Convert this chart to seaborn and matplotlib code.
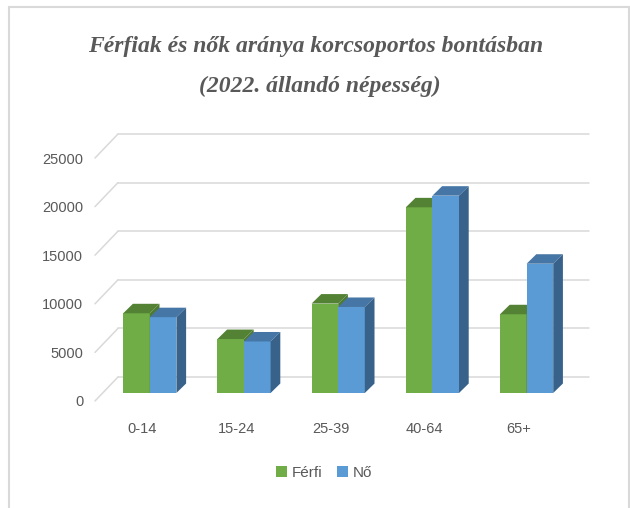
import matplotlib
matplotlib.use('Agg')
import matplotlib.pyplot as plt
import seaborn as sns
import pandas as pd
from matplotlib.patches import Polygon
from matplotlib.lines import Line2D

# ---- adatok ----
korcsoportok = ['0-14', '15-24', '25-39', '40-64', '65+']
ferfi = [8200, 5550, 9200, 19100, 8100]
no = [7800, 5300, 8850, 20300, 13300]
y_ticks = [0, 5000, 10000, 15000, 20000, 25000]

cim1 = 'Férfiak és nők aránya korcsoportos bontásban'
cim2 = '(2022. állandó népesség)'

# szinek (Excel stilus)
zold, kek = '#70AD47', '#5B9BD5'
zold_teto, kek_teto = '#548235', '#4676A5'
zold_oldal, kek_oldal = '#4E7A32', '#38628A'
racs = '#D9D9D9'
szurke = '#595959'

sns.set_style('white')
plt.rcParams['font.family'] = ['Liberation Sans', 'DejaVu Sans']

W, H = 630, 508
fig = plt.figure(figsize=(W / 100, H / 100), dpi=100)
ax = fig.add_axes([95 / W, 107 / H, 471 / W, 243 / H])

df = pd.DataFrame({
    'Korcsoport': korcsoportok * 2,
    'Nem': ['Férfi'] * len(ferfi) + ['Nő'] * len(no),
    'Fő': ferfi + no,
})
sns.barplot(data=df, x='Korcsoport', y='Fő', hue='Nem', palette=[zold, kek],
            width=0.565, saturation=1, linewidth=0, ax=ax)
ax.set_xlim(-0.5, 4.5)
ax.set_ylim(0, 25000)

# pixel -> adat egysegek
ux = 5 / 471
uy = 25000 / 243

# hatso fal racsvonalai + atlos vonalak bal oldalt
wdx, wdy = 23 * ux, 24 * uy
for v in y_ticks:
    ax.add_line(Line2D([-0.5 + wdx, 4.5 + wdx], [v + wdy, v + wdy], color=racs,
                       lw=1.1, zorder=1, clip_on=False))
    ax.add_line(Line2D([-0.5, -0.5 + wdx], [v, v + wdy], color=racs,
                       lw=1.1, zorder=1, clip_on=False))

# oszlopok eltolasa a melysegbe + teteje es oldala (3D hatas)
bdx, bdy = 7.7 * ux, 8 * uy   # oszlopok sikja
ddx, ddy = 9.7 * ux, 9.5 * uy  # oszlop melysege
n = len(korcsoportok)
for i, p in enumerate(ax.patches[:2 * n]):
    elso = i < n
    z = 3 if elso else 4
    x0 = p.get_x() + bdx
    w = p.get_width()
    h = p.get_height()
    p.set_x(x0)
    p.set_y(bdy)
    p.set_zorder(z)
    p.set_clip_on(False)
    top = h + bdy
    teto = Polygon([(x0, top), (x0 + w, top), (x0 + w + ddx, top + ddy), (x0 + ddx, top + ddy)],
                   closed=True, facecolor=zold_teto if elso else kek_teto, edgecolor='none',
                   zorder=z, clip_on=False)
    oldal = Polygon([(x0 + w, bdy), (x0 + w + ddx, bdy + ddy), (x0 + w + ddx, top + ddy), (x0 + w, top)],
                    closed=True, facecolor=zold_oldal if elso else kek_oldal, edgecolor='none',
                    zorder=z, clip_on=False)
    ax.add_patch(teto)
    ax.add_patch(oldal)

for s in ax.spines.values():
    s.set_visible(False)
ax.set_yticks(y_ticks)
ax.set_yticklabels([str(t) for t in y_ticks])
ax.set_xlabel('')
ax.set_ylabel('')
ax.tick_params(axis='y', length=0, pad=8.5, labelsize=10.5, labelcolor=szurke)
ax.tick_params(axis='x', length=0, pad=15, labelsize=10.5, labelcolor=szurke)
ax.patch.set_alpha(0)

# jelmagyarazat lent kozepen
handles, labels = ax.get_legend_handles_labels()
ax.get_legend().remove()
fig.legend(handles, labels, loc='center', bbox_to_anchor=(324 / W, 1 - 473 / H), ncol=2,
           frameon=False, fontsize=11, handlelength=0.7, handleheight=0.7,
           handletextpad=0.3, columnspacing=1.0, labelcolor=szurke)

# cim (ket sor)
cim_font = dict(ha='center', va='center', fontsize=17, style='italic', weight='bold',
                family=['Liberation Serif', 'DejaVu Serif'], color=szurke)
fig.text(316 / W, 1 - 46 / H, cim1, **cim_font)
fig.text(320 / W, 1 - 86 / H, cim2, **cim_font)

# keret
fig.add_artist(Line2D([9 / W, 9 / W], [0, 1 - 7 / H], color=racs, lw=1.5, transform=fig.transFigure))
fig.add_artist(Line2D([9 / W, 629 / W], [1 - 7 / H, 1 - 7 / H], color=racs, lw=1.5, transform=fig.transFigure))
fig.add_artist(Line2D([629 / W, 629 / W], [0, 1 - 7 / H], color=racs, lw=1.5, transform=fig.transFigure))

fig.savefig('out.png', dpi=100)
